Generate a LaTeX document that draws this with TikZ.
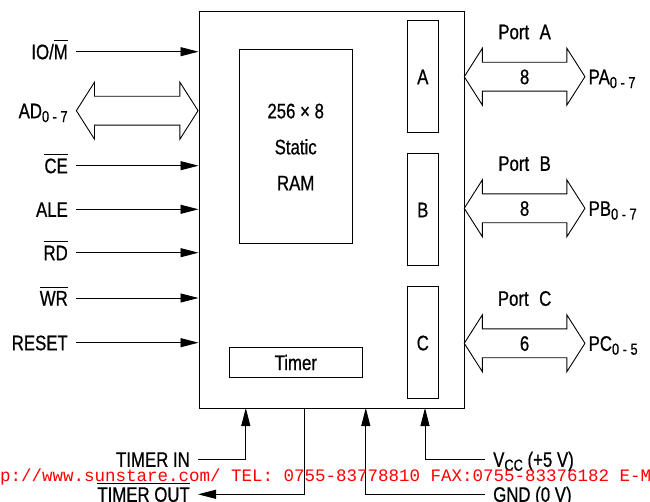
\documentclass[tikz,border=0pt]{standalone}
\usepackage{fontspec}
\setmainfont[FakeStretch=0.8,FakeBold=0.7]{Liberation Sans}
\newfontfamily\wmfont{Liberation Mono}
\usetikzlibrary{arrows.meta,shapes.arrows}
\newcommand\ovl[1]{\leavevmode\vbox{\hrule height 0.8pt \kern 3.5pt \hbox{#1}}}
\newcommand\lowsub[1]{\raisebox{-0.35ex}{\fontsize{16}{16}\selectfont #1}}

\begin{document}
\begin{tikzpicture}[x=1pt,y=-1pt,>={Triangle[length=18pt,width=9pt]},
    font=\fontsize{21}{25}\selectfont,
    box/.style={draw,line width=1pt,inner sep=0pt},
    sig/.style={->,line width=0.9pt},
    lab/.style={inner xsep=8pt,inner ysep=0pt,text height=15pt,text depth=0pt},
    bus/.style={double arrow,draw,line width=0.9pt,double arrow tip angle=115,
        double arrow head extend=14pt,inner xsep=0pt,inner ysep=6.5pt,
        minimum width=56pt,text height=15pt,text depth=0pt}]
    \clip (0,0) rectangle (650,502);

    % Chip and inner blocks
    \node[box,line width=1.2pt,minimum width=265.5pt,minimum height=397.3pt,anchor=north west] (chip) at (198.5,10.7) {};
    \node[box,minimum width=112.7pt,minimum height=194pt,align=center,font=\fontsize{21}{36}\selectfont] (ram) at (295.7,147) {256 × 8\\Static\\RAM};
    \node[box,minimum width=31pt,minimum height=112pt,lab] (pa) at (422.8,76.7) {A};
    \node[box,minimum width=31pt,minimum height=112pt,lab] (pb) at (422.8,209.7) {B};
    \node[box,minimum width=31pt,minimum height=112.3pt,lab] (pc) at (422.8,342.8) {C};
    \node[box,minimum width=133pt,minimum height=30.4pt,lab] (timer) at (295.8,362.5) {Timer};

    % Control inputs
    \foreach \y/\name/\txt in {51.7/io/{IO/\ovl{M}},165.7/ce/{\ovl{CE}},209.3/ale/{ALE},
        252.7/rd/{\ovl{RD}},298/wr/{\ovl{WR}},342.7/reset/{RESET}}{
        \node[lab,anchor=east] (\name) at (76,\y) {\txt};
        \draw[sig] (\name) -- (\name -| chip.west);
    }

    % Address/data bus
    \node[bus,minimum height=121.7pt] (ad) at (137.2,110.7) {};
    \node[lab,anchor=east] (adl) at (ad.west) {AD\lowsub{0 - 7}};

    % Ports
    \foreach \y/\p/\n/\w in {76.7/A/8/0 - 7,208.3/B/8/0 - 7,343.3/C/6/0 - 5}{
        \node[bus,minimum height=120.7pt] (bus\p) at (524.6,\y) {\n};
        \node[lab] (port\p) at ([yshift=45pt]bus\p.center) {Port\enspace\p};
        \node[lab,anchor=west,inner xsep=3pt] (pl\p) at (bus\p.east) {P\p\lowsub{\w}};
    }

    % Timer and supply pins
    \coordinate (tinpin) at (245.8,408);
    \coordinate (toutpin) at (304,408);
    \coordinate (gndpin) at (365.8,408);
    \coordinate (vccpin) at (425,408);
    \node[lab,anchor=east] (tin) at (198,459.3) {TIMER IN};
    \draw[sig] (tin) -| (tinpin);
    \node[lab,anchor=east] (tout) at (198,494.3) {\ovl{TIMER OUT}};
    \draw[sig] (toutpin) |- (tout);
    \node[lab,anchor=west] (vcc) at (485,459.3) {V\lowsub{CC} (+5 V)};
    \draw[sig] (vcc) -| (vccpin);
    \node[lab,anchor=west] (gnd) at (485,494.3) {GND (0 V)};
    \draw[sig] (gnd) -| (gndpin);

    % Watermark
    \node[anchor=base west,inner sep=0pt,text=red,font=\wmfont\fontsize{17.5}{17.5}\selectfont] (wm) at (0,481.7)
        {p://www.sunstare.com/ TEL: 0755-83778810 FAX:0755-83376182 E-M};
\end{tikzpicture}
\end{document}
